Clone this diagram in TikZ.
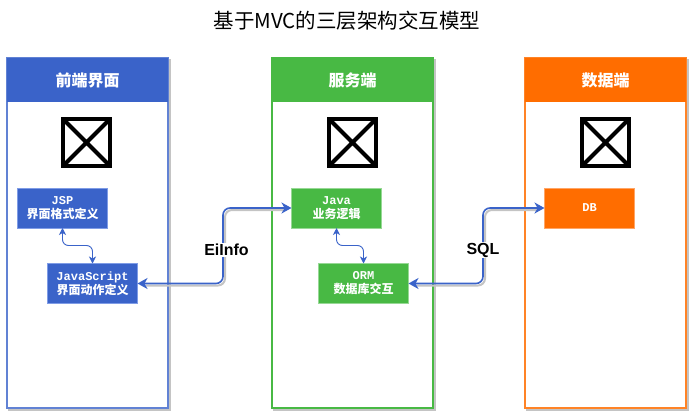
\documentclass[tikz,border=0pt]{standalone}
\usepackage{fontspec}
\setmainfont{Liberation Sans}
\setmonofont{Liberation Mono}
\newfontfamily\cjk{Noto Sans CJK SC}
\usetikzlibrary{arrows.meta,calc}
\definecolor{bluef}{HTML}{3A63C9}
\definecolor{blued}{HTML}{7F9CE6}
\definecolor{greenf}{HTML}{48B944}
\definecolor{greend}{HTML}{97D895}
\definecolor{orangef}{HTML}{FF6D00}
\definecolor{oranged}{HTML}{FFA566}
\definecolor{shade}{HTML}{C4C4C4}
\tikzset{
 lanebody/.style={draw=#1,line width=2pt,fill=white,minimum width=161pt,minimum height=350pt,anchor=north west,inner sep=0pt,outer sep=0pt},
 lanehead/.style={fill=#1,minimum width=161pt,minimum height=44pt,anchor=north west,inner sep=0pt,outer sep=0pt,text=white,font=\cjk\bfseries\fontsize{16}{18}\selectfont},
 shadowbox/.style={fill=shade,minimum width=163pt,minimum height=352pt,anchor=north west,inner sep=0pt,outer sep=0pt},
 item/.style n args={2}{draw=#2,fill=#1,line width=1pt,minimum width=90pt,minimum height=40pt,anchor=north west,inner sep=0pt,outer sep=0pt,text=white,align=center,font=\fontsize{12}{14}\selectfont},
 ximg/.style={draw=black,line width=4pt,fill=white,minimum size=47pt,inner sep=0pt,outer sep=0pt,
   path picture={\draw[black,line width=4pt] (path picture bounding box.north west)--(path picture bounding box.south east) (path picture bounding box.north east)--(path picture bounding box.south west);}},
 link/.style={draw=bluef,line width=1.6pt,rounded corners=7pt,{Stealth[length=10pt,width=11pt,inset=3pt]}-{Stealth[length=10pt,width=11pt,inset=3pt]}},
 linkshadow/.style={draw=shade,line width=2pt,rounded corners=7pt},
 minor/.style={draw=bluef,line width=0.9pt,rounded corners=6pt,{Stealth[length=7pt,width=7pt,inset=2pt]}-{Stealth[length=7pt,width=7pt,inset=2pt]}},
 lbl/.style={fill=white,inner sep=1pt,font=\bfseries\fontsize{16}{18}\selectfont},
}
\newcommand{\lat}[1]{{\ttfamily\bfseries #1}}
\newcommand{\han}[1]{{\cjk\bfseries #1}}
\begin{document}
\begin{tikzpicture}[x=1pt,y=-1pt]
\useasboundingbox (0,0) rectangle (695,417);
\node[font=\cjk\fontsize{20.5}{24}\selectfont] (title) at (347,21) {基于MVC的三层架构交互模型};
% lanes
\node[shadowbox] (s1) at (8,59) {};
\node[shadowbox] (s2) at (273,59) {};
\node[shadowbox] (s3) at (526,59) {};
\node[lanebody=bluef!80!white] (l1) at (7,58) {};
\node[lanebody=greenf] (l2) at (272,58) {};
\node[lanebody=orangef!85!white] (l3) at (525,58) {};
\node[lanehead=bluef] (h1) at (7,58) {前端界面};
\node[lanehead=greenf] (h2) at (272,58) {服务端};
\node[lanehead=orangef] (h3) at (525,58) {数据端};
% images
\node[ximg] (x1) at (86.5,142.5) {};
\node[ximg] (x2) at (352.5,142.5) {};
\node[ximg] (x3) at (605.5,142.5) {};
% items
\node[item={bluef}{blued}] (jsp) at (17.5,188) {\lat{JSP}\\\han{界面格式定义}};
\node[item={bluef}{blued}] (js) at (47.5,263.5) {\lat{JavaScript}\\\han{界面动作定义}};
\node[item={greenf}{greend}] (java) at (291.5,188) {\lat{Java}\\\han{业务逻辑}};
\node[item={greenf}{greend}] (orm) at (318.5,263.5) {\lat{ORM}\\\han{数据库交互}};
\node[item={orangef}{oranged}] (db) at (544.5,188) {\lat{DB}};
% elbows
\coordinate (e1) at (223,250);
\coordinate (e2) at (483,250);
\coordinate (m1) at (77.5,245.5);
\coordinate (m2) at (342,245.5);
% shadows of main connectors
\draw[linkshadow] ($(js.east)+(8,2)$) -- ($(js.east -| e1)+(2,2)$) -- ($(java.west -| e1)+(2,2)$) -- ($(java.west)+(-8,2)$);
\draw[linkshadow] ($(orm.east)+(8,2)$) -- ($(orm.east -| e2)+(2,2)$) -- ($(db.west -| e2)+(2,2)$) -- ($(db.west)+(-8,2)$);
% main connectors
\draw[link] (js.east) -- (js.east -| e1) -- (java.west -| e1) -- (java.west);
\draw[link] (orm.east) -- (orm.east -| e2) -- (db.west -| e2) -- (db.west);
% minor connectors
\draw[minor] (jsp.south) -- (jsp.south |- m1) -- (js.north |- m1) -- (js.north);
\draw[minor] (java.south) -- (java.south |- m2) -- (orm.north |- m2) -- (orm.north);
% labels
\node[lbl] (t1) at (226.5,250) {EiInfo};
\node[lbl] (t2) at (e2) {SQL};
\end{tikzpicture}
\end{document}
